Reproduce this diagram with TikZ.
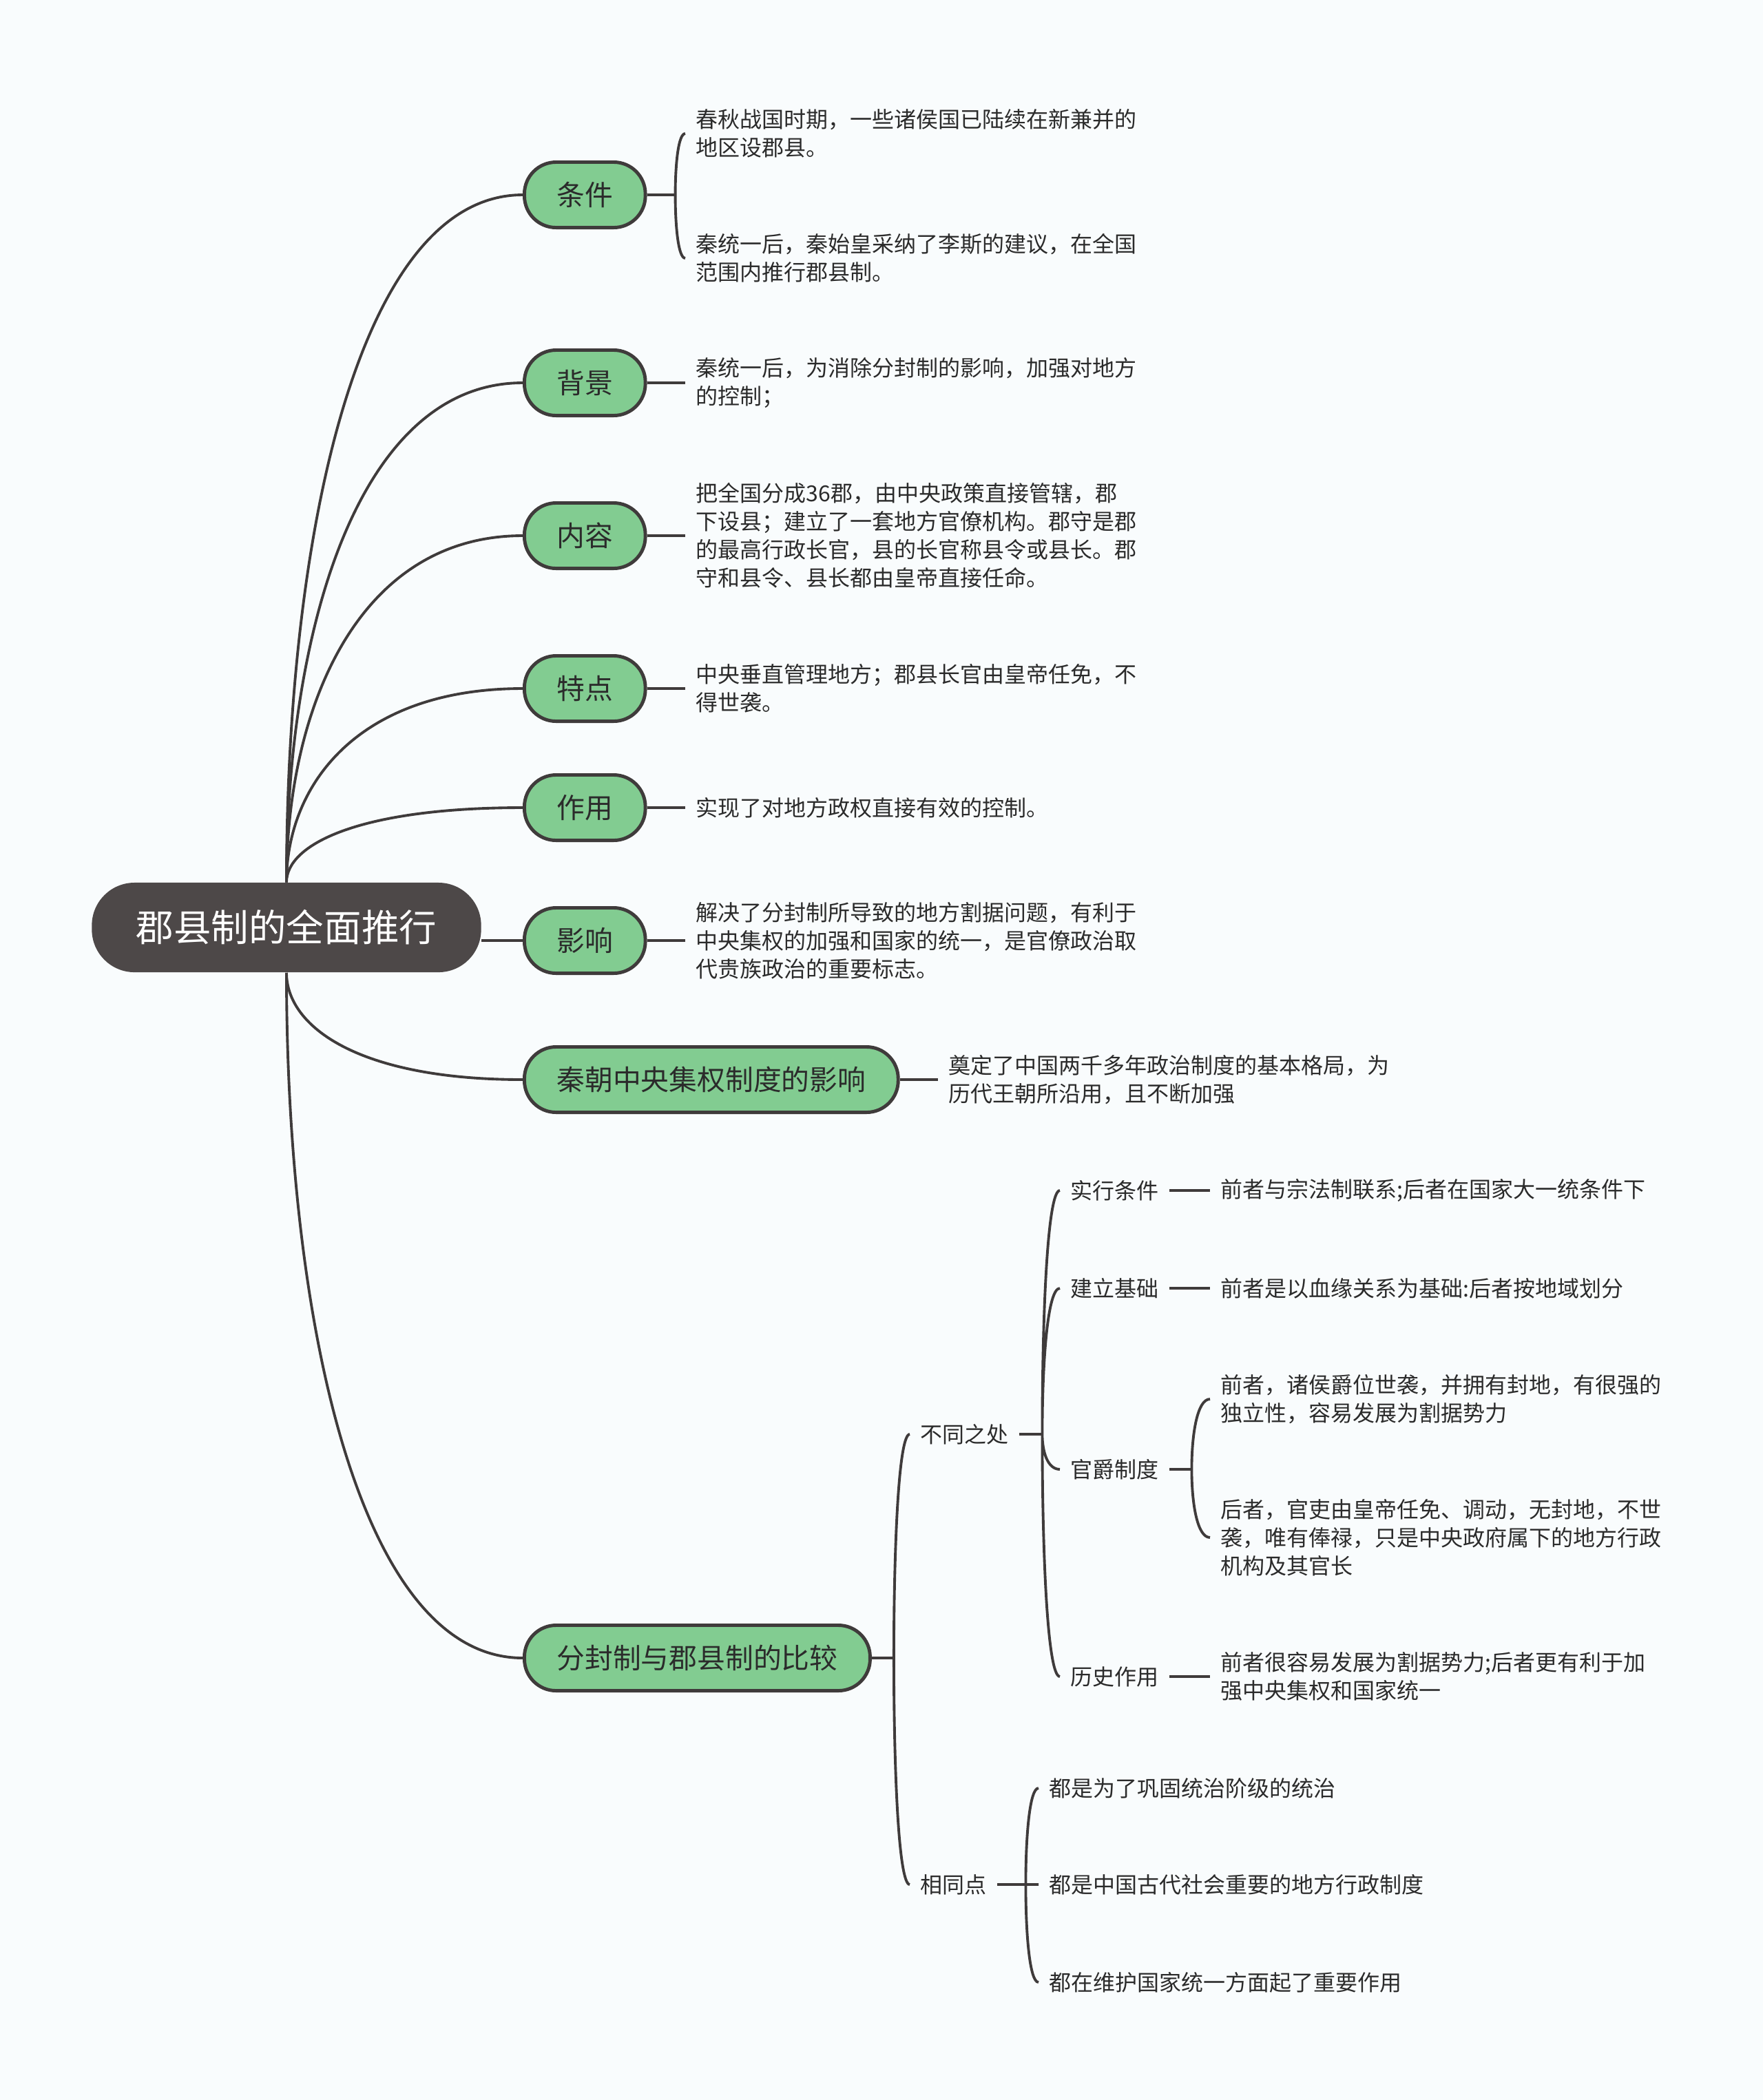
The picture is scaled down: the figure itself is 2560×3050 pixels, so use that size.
\documentclass[tikz,border=0pt]{standalone}
\usepackage{fontspec}
\setmainfont{Noto Sans CJK SC}
\usepackage{tikz}
\usetikzlibrary{positioning, calc}
\definecolor{bgcol}{HTML}{F9FCFD}
\definecolor{rootgray}{HTML}{4D4848}
\definecolor{topicgreen}{HTML}{82CC91}
\definecolor{linegray}{HTML}{3F3B3B}
\definecolor{textdark}{HTML}{2B2B2B}
\tikzset{
  swoop/.style={to path={.. controls ($(\tikztostart)!0.5!(\tikztostart|-\tikztotarget)$)
    and ($(\tikztostart|-\tikztotarget)!0.3!(\tikztotarget)$) .. (\tikztotarget)}}
}

\begin{document}
\begin{tikzpicture}[x=0.01cm,y=-0.01cm,
  rootnode/.style={rectangle,rounded corners=0.62cm,fill=rootgray,text=white,
    minimum width=5.65cm,minimum height=1.3cm,font=\fontsize{15.5pt}{18pt}\selectfont},
  topic/.style={rectangle,rounded corners=0.46cm,fill=topicgreen,draw=linegray,
    line width=1.4pt,anchor=west,inner xsep=0.47cm,minimum height=0.95cm,
    text=textdark,font=\fontsize{11.6pt}{14pt}\selectfont},
  leaf/.style={anchor=west,inner xsep=0.15cm,inner ysep=2pt,align=left,
    text=textdark,font=\fontsize{9.1pt}{11.67pt}\selectfont},
  link/.style={draw=linegray,line width=1.1pt}
]
\fill[bgcol] (0,0) rectangle (2560,3050);
\useasboundingbox (0,0) rectangle (2560,3050);

\node[rootnode] (root) at (416,1347) {郡县制的全面推行};

% Main topics
\node[topic] (tiaojian) at (759,283) {条件};
\node[topic] (beijing) at (759,556) {背景};
\node[topic] (neirong) at (759,778) {内容};
\node[topic] (tedian) at (759,1000) {特点};
\node[topic] (zuoyong) at (759,1173) {作用};
\node[topic] (yingxiang) at (759,1366) {影响};
\node[topic] (qinchao) at (759,1568) {秦朝中央集权制度的影响};
\node[topic] (fenfeng) at (759,2408) {分封制与郡县制的比较};

% Upper details
\node[leaf] (tj1) at (995,194) {春秋战国时期，一些诸侯国已陆续在新兼并的\\地区设郡县。};
\node[leaf] (tj2) at (995,375) {秦统一后，秦始皇采纳了李斯的建议，在全国\\范围内推行郡县制。};
\node[leaf] (bj1) at (995,556) {秦统一后，为消除分封制的影响，加强对地方\\的控制；};
\node[leaf] (nr1) at (995,778) {把全国分成36郡，由中央政策直接管辖，郡\\下设县；建立了一套地方官僚机构。郡守是郡\\的最高行政长官，县的长官称县令或县长。郡\\守和县令、县长都由皇帝直接任命。};
\node[leaf] (td1) at (995,1000) {中央垂直管理地方；郡县长官由皇帝任免，不\\得世袭。};
\node[leaf] (zy1) at (995,1173) {实现了对地方政权直接有效的控制。};
\node[leaf] (yx1) at (995,1366) {解决了分封制所导致的地方割据问题，有利于\\中央集权的加强和国家的统一，是官僚政治取\\代贵族政治的重要标志。};
\node[leaf] (qc1) at (1362,1568) {奠定了中国两千多年政治制度的基本格局，为\\历代王朝所沿用，且不断加强};

% Comparison
\node[leaf] (butong) at (1321,2083) {不同之处};
\node[leaf] (xiangtong) at (1321,2737) {相同点};
\node[leaf] (shixing) at (1539,1729) {实行条件};
\node[leaf] (jianli) at (1539,1871) {建立基础};
\node[leaf] (guanjue) at (1539,2134) {官爵制度};
\node[leaf] (lishi) at (1539,2435) {历史作用};
\node[leaf] (sx1) at (1757,1729) {前者与宗法制联系;后者在国家大一统条件下};
\node[leaf] (jl1) at (1757,1871) {前者是以血缘关系为基础:后者按地域划分};
\node[leaf] (gj1) at (1757,2032) {前者，诸侯爵位世袭，并拥有封地，有很强的\\独立性，容易发展为割据势力};
\node[leaf] (gj2) at (1757,2233) {后者，官吏由皇帝任免、调动，无封地，不世\\袭，唯有俸禄，只是中央政府属下的地方行政\\机构及其官长};
\node[leaf] (ls1) at (1757,2435) {前者很容易发展为割据势力;后者更有利于加\\强中央集权和国家统一};
\node[leaf] (xt1) at (1508,2597) {都是为了巩固统治阶级的统治};
\node[leaf] (xt2) at (1508,2737) {都是中国古代社会重要的地方行政制度};
\node[leaf] (xt3) at (1508,2879) {都在维护国家统一方面起了重要作用};

% Root branches
\draw[link] (root.north) to[swoop] (tiaojian.west);
\draw[link] (root.north) to[swoop] (beijing.west);
\draw[link] (root.north) to[swoop] (neirong.west);
\draw[link] (root.north) to[swoop] (tedian.west);
\draw[link] (root.north) to[swoop] (zuoyong.west);
\draw[link] (root.east |- yingxiang.west) -- (yingxiang.west);
\draw[link] (root.south) to[swoop] (qinchao.west);
\draw[link] (root.south) to[swoop] (fenfeng.west);

% Topic details
\draw[link] (tiaojian.east) -- ++(41,0) coordinate (tj);
\draw[link] (tj) to[swoop] (tj1.west) (tj) to[swoop] (tj2.west);
\draw[link] (beijing.east) -- (bj1.west);
\draw[link] (neirong.east) -- (nr1.west);
\draw[link] (tedian.east) -- (td1.west);
\draw[link] (zuoyong.east) -- (zy1.west);
\draw[link] (yingxiang.east) -- (yx1.west);
\draw[link] (qinchao.east) -- (qc1.west);

% Comparison links
\draw[link] (fenfeng.east) -- ++(32,0) coordinate (ff);
\draw[link] (ff) to[swoop] (butong.west) (ff) to[swoop] (xiangtong.west);
\draw[link] (butong.east) -- ++(33,0) coordinate (bt);
\draw[link] (bt) to[swoop] (shixing.west) (bt) to[swoop] (jianli.west)
  (bt) to[swoop] (guanjue.west) (bt) to[swoop] (lishi.west);
\draw[link] (shixing.east) -- (sx1.west);
\draw[link] (jianli.east) -- (jl1.west);
\draw[link] (guanjue.east) -- ++(32,0) coordinate (gj);
\draw[link] (gj) to[swoop] (gj1.west) (gj) to[swoop] (gj2.west);
\draw[link] (lishi.east) -- (ls1.west);
\draw[link] (xiangtong.east) -- ++(41,0) coordinate (xt);
\draw[link] (xt) to[swoop] (xt1.west) (xt) to[swoop] (xt2.west) (xt) to[swoop] (xt3.west);

\end{tikzpicture}
\end{document}
